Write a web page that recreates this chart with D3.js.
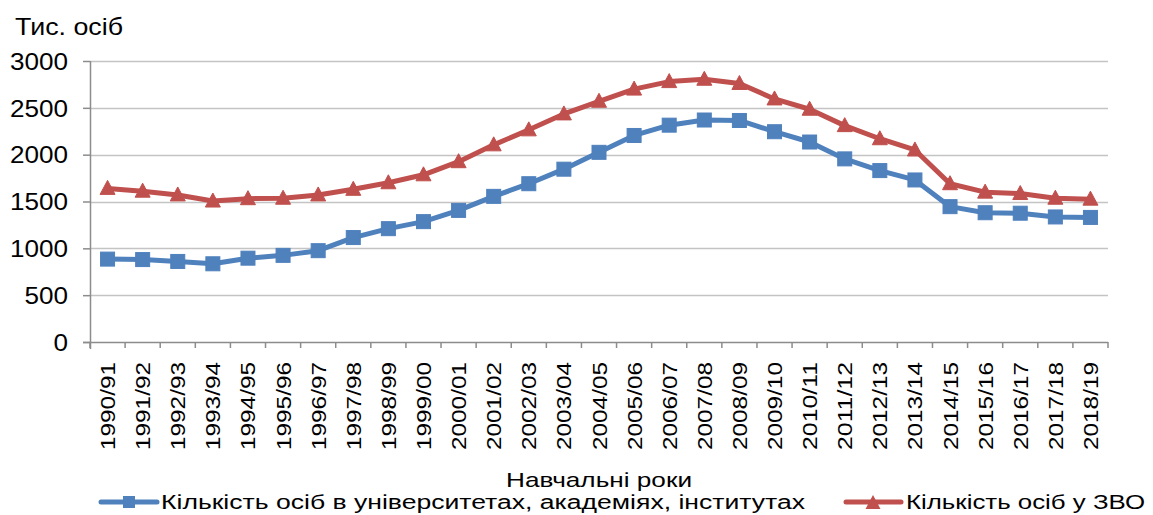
<!DOCTYPE html>
<html>
<head>
<meta charset="utf-8">
<script src="https://cdn.jsdelivr.net/npm/d3@7"></script>
<style>
  body { margin: 0; background: #fff; }
  text { font-family: "Liberation Sans", Arial, sans-serif; fill: #000; }
</style>
</head>
<body>
<div id="chart"></div>
<script>
// chart data
var years = ["1990/91", "1991/92", "1992/93", "1993/94", "1994/95", "1995/96", "1996/97",
  "1997/98", "1998/99", "1999/00", "2000/01", "2001/02", "2002/03", "2003/04", "2004/05",
  "2005/06", "2006/07", "2007/08", "2008/09", "2009/10", "2010/11", "2011/12", "2012/13",
  "2013/14", "2014/15", "2015/16", "2016/17", "2017/18", "2018/19"];

var universities = [885, 880, 860, 835, 895, 925, 975, 1115, 1210, 1285, 1405, 1555, 1690,
  1845, 2025, 2205, 2315, 2370, 2365, 2245, 2135, 1955, 1830, 1730, 1445, 1380, 1375, 1335, 1330];

var allHei = [1640, 1610, 1570, 1505, 1530, 1535, 1570, 1630, 1700, 1785, 1925, 2105, 2265,
  2435, 2570, 2700, 2780, 2805, 2760, 2595, 2485, 2310, 2170, 2050, 1690, 1600, 1585, 1535, 1525];

var yTicks = [0, 500, 1000, 1500, 2000, 2500, 3000];

var seriesNames = ["Кількість осіб в університетах, академіях, інститутах", "Кількість осіб у ЗВО"];
var yTitle = "Тис. осіб";
var xTitle = "Навчальні роки";

var svgWidth = 1153;
var svgHeight = 515;

var plot = { left: 90, right: 1108, top: 61, bottom: 342 };

var blue = "#4f81bd";
var red = "#c0504d";

var svg = d3.select("#chart")
  .append("svg")
  .attr("width", svgWidth)
  .attr("height", svgHeight);

var x = d3.scaleBand()
  .domain(years)
  .range([plot.left, plot.right])
  .padding(0);

var y = d3.scaleLinear()
  .domain([0, 3000])
  .range([plot.bottom, plot.top]);

// stretch text horizontally to match the wide rendering of the original
function stretch(sel, target) {
  sel.each(function() {
    var len = this.getComputedTextLength();
    var t = typeof target === "function" ? target(len) : target;
    d3.select(this)
      .attr("textLength", t)
      .attr("lengthAdjust", "spacingAndGlyphs");
  });
}

// gridlines
svg.append("g")
  .selectAll("line")
  .data(yTicks.filter(d => d > 0))
  .enter()
  .append("line")
  .attr("x1", plot.left)
  .attr("x2", plot.right)
  .attr("y1", d => Math.round(y(d)) + 0.5)
  .attr("y2", d => Math.round(y(d)) + 0.5)
  .attr("stroke", "#c4c4c4")
  .attr("stroke-width", 1.5);

// y axis
var yAxis = svg.append("g")
  .attr("transform", `translate(${plot.left}, 0)`)
  .call(d3.axisLeft(y)
    .tickValues(yTicks)
    .tickFormat(d3.format("d"))
    .tickSize(7)
    .tickSizeOuter(0)
    .tickPadding(15));

yAxis.select(".domain")
  .attr("d", `M0.5,${plot.top}V${plot.bottom + 7}`)
  .attr("stroke", "#8c8c8c")
  .attr("stroke-width", 1.5);
yAxis.selectAll(".tick line").attr("stroke", "#8c8c8c").attr("stroke-width", 1.5);
yAxis.selectAll(".tick text")
  .attr("font-size", 23)
  .attr("dy", "0.36em")
  .each(function(d) {
    d3.select(this)
      .attr("textLength", String(d).length * 14.5)
      .attr("lengthAdjust", "spacingAndGlyphs");
  });

// x axis
var xAxis = svg.append("g")
  .attr("transform", `translate(0, ${plot.bottom})`);

xAxis.append("line")
  .attr("x1", plot.left - 7)
  .attr("x2", plot.right)
  .attr("y1", 0.5)
  .attr("y2", 0.5)
  .attr("stroke", "#8c8c8c")
  .attr("stroke-width", 1.5);

// tick marks sit on category boundaries
xAxis.selectAll(".bound")
  .data(years.concat(["end"]))
  .enter()
  .append("line")
  .attr("x1", (d, i) => plot.left + i * x.step())
  .attr("x2", (d, i) => plot.left + i * x.step())
  .attr("y1", 0)
  .attr("y2", 6)
  .attr("stroke", "#8c8c8c")
  .attr("stroke-width", 1.5);

xAxis.selectAll(".xlabel")
  .data(years)
  .enter()
  .append("text")
  .attr("transform", d => `translate(${x(d) + x.bandwidth() / 2 + 7.5}, 20) rotate(-90)`)
  .attr("text-anchor", "end")
  .attr("font-size", 21)
  .text(d => d)
  .call(stretch, 88);

// axis titles
svg.append("text")
  .attr("x", 15)
  .attr("y", 35)
  .attr("font-size", 23)
  .text(yTitle)
  .call(stretch, 108);

svg.append("text")
  .attr("x", (plot.left + plot.right) / 2)
  .attr("y", 487)
  .attr("text-anchor", "middle")
  .attr("font-size", 21)
  .text(xTitle)
  .call(stretch, 186);

// lines
var line = d3.line()
  .x((d, i) => x(years[i]) + x.bandwidth() / 2)
  .y(d => y(d));

svg.append("path")
  .datum(allHei)
  .attr("d", line)
  .attr("fill", "none")
  .attr("stroke", red)
  .attr("stroke-width", 5)
  .attr("stroke-linejoin", "round");

svg.append("path")
  .datum(universities)
  .attr("d", line)
  .attr("fill", "none")
  .attr("stroke", blue)
  .attr("stroke-width", 5)
  .attr("stroke-linejoin", "round");

function triPath(cx, cy, w, h) {
  return `M${cx},${cy - h / 2}L${cx + w / 2},${cy + h / 2}L${cx - w / 2},${cy + h / 2}Z`;
}

// markers
svg.append("g")
  .selectAll("path")
  .data(allHei)
  .enter()
  .append("path")
  .attr("d", (d, i) => triPath(x(years[i]) + x.bandwidth() / 2, y(d) - 1, 15, 14))
  .attr("fill", red)
  .attr("stroke", red)
  .attr("stroke-width", 1);

svg.append("g")
  .selectAll("rect")
  .data(universities)
  .enter()
  .append("rect")
  .attr("x", (d, i) => x(years[i]) + x.bandwidth() / 2 - 7)
  .attr("y", d => y(d) - 7)
  .attr("width", 14)
  .attr("height", 14)
  .attr("fill", blue)
  .attr("stroke", blue)
  .attr("stroke-width", 1);

// legend
var legend = svg.append("g");

legend.append("line")
  .attr("x1", 101).attr("x2", 157)
  .attr("y1", 502).attr("y2", 502)
  .attr("stroke", blue).attr("stroke-width", 5)
  .attr("stroke-linecap", "round");
legend.append("rect")
  .attr("x", 123).attr("y", 496)
  .attr("width", 12).attr("height", 12)
  .attr("fill", blue);
legend.append("text")
  .attr("x", 161).attr("y", 509)
  .attr("font-size", 20)
  .text(seriesNames[0])
  .call(stretch, 644);

legend.append("line")
  .attr("x1", 846).attr("x2", 901)
  .attr("y1", 502).attr("y2", 502)
  .attr("stroke", red).attr("stroke-width", 5)
  .attr("stroke-linecap", "round");
legend.append("path")
  .attr("d", triPath(873, 502, 15, 14))
  .attr("fill", red);
legend.append("text")
  .attr("x", 906).attr("y", 509)
  .attr("font-size", 20)
  .text(seriesNames[1])
  .call(stretch, 239);
</script>
</body>
</html>
